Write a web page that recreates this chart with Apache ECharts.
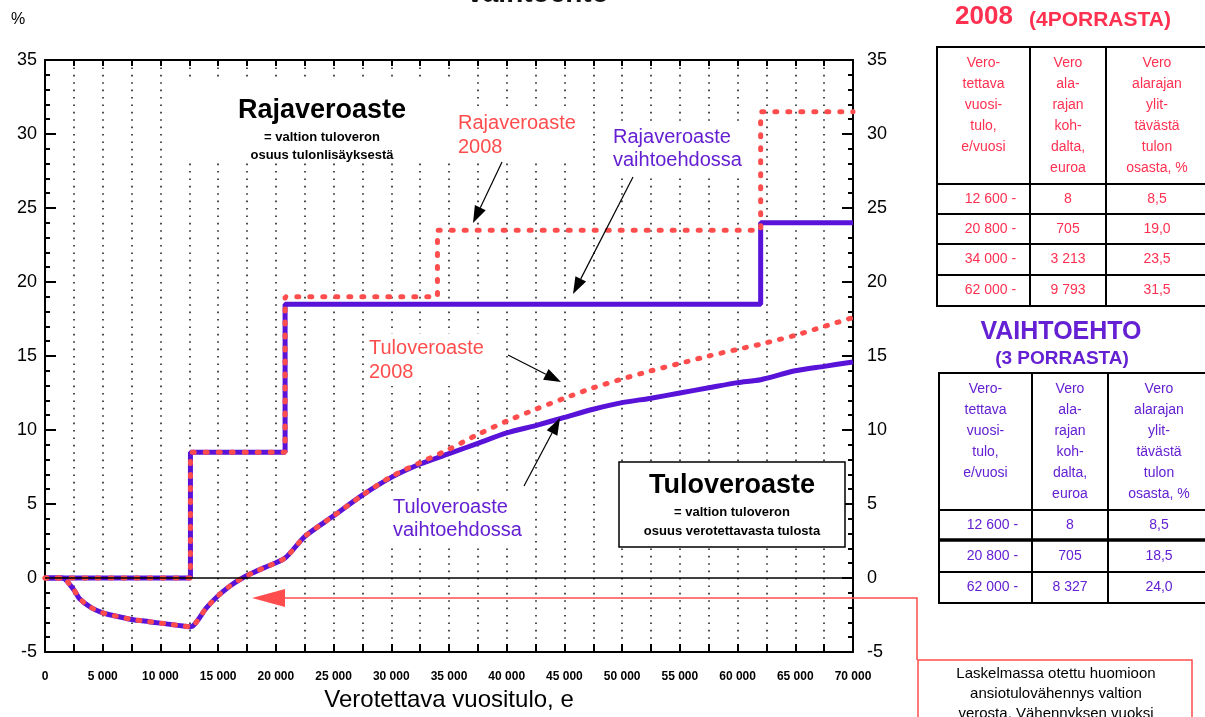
<!DOCTYPE html>
<html><head><meta charset="utf-8">
<script src="https://cdn.jsdelivr.net/npm/echarts@6/dist/echarts.min.js"></script>
<style>html,body{margin:0;padding:0;background:#fff}#c{width:1205px;height:717px}</style>
</head><body><div id="c"></div>
<script>
// ---- data ----
const xMin = 0, xMax = 70000;
const yTicks = [-5, 0, 5, 10, 15, 20, 25, 30, 35];
const limits2008 = [12600, 20800, 34000, 62000];
const baseTax2008 = [8, 705, 3213, 9793];
const rates2008 = [8.5, 19.0, 23.5, 31.5];
const limitsAlt = [12600, 20800, 62000];
const baseTaxAlt = [8, 705, 8327];
const ratesAlt = [8.5, 18.5, 24.0];
const incomes = [0,1500,2500,3000,4000,5000,6000,7500,9000,10000,11000,12000,12600,14000,15000,16000,17000,18000,19000,20800,22500,25000,27500,30000,32500,35000,37500,40000,42500,45000,47500,50000,52500,55000,57500,60000,62000,65000,67500,70000];
const avg2008 = [0,0,-0.8,-1.4,-2.0,-2.35,-2.55,-2.8,-2.95,-3.05,-3.15,-3.25,-3.3,-2.0,-1.2,-0.55,-0.05,0.35,0.7,1.35,2.8,4.2,5.6,6.85,7.8,8.7,9.7,10.6,11.4,12.15,12.85,13.45,14.0,14.5,15.0,15.45,15.8,16.4,17.0,17.6];
const avgAlt = [0,0,-0.8,-1.4,-2.0,-2.35,-2.55,-2.8,-2.95,-3.05,-3.15,-3.25,-3.3,-2.0,-1.2,-0.55,-0.05,0.35,0.7,1.35,2.8,4.2,5.6,6.8,7.7,8.4,9.1,9.8,10.3,10.85,11.4,11.85,12.15,12.5,12.85,13.2,13.4,14.0,14.3,14.6];
const headerCols = [
  ['Vero-','tettava','vuosi-','tulo,','e/vuosi'],
  ['Vero','ala-','rajan','koh-','dalta,','euroa'],
  ['Vero','alarajan','ylit-','tävästä','tulon','osasta, %']
];
const noteLines = ['Laskelmassa otettu huomioon','ansiotulovähennys valtion','verosta. Vähennyksen vuoksi'];

// ---- helpers ----
const RED = '#ff4d4d', BLUE = '#5812d8', TRED = '#ff3050', TBLUE = '#6420d2';
const FF = '"Liberation Sans", Arial, sans-serif';
function fmt(v){ return String(v).replace(/\B(?=(\d{3})+(?!\d))/g, ' '); }
function stepData(limits, rates){
  const d = [[xMin, 0]];
  limits.forEach((l,i)=>d.push([l, rates[i]]));
  d.push([xMax, rates[rates.length-1]]);
  return d;
}
function pairs(xs, ys){ return xs.map((x,i)=>[x, ys[i]]); }
function rowsOf(limits, base, rates){
  return limits.map((l,i)=>[fmt(l)+' -', fmt(base[i]), rates[i].toFixed(1).replace('.', ',')]);
}
function txt(x, y, text, font, fill, align, extra){
  return {type:'text', x:x, y:y, z:100, style:Object.assign({text:text, font:font, fill:fill, align:align||'center', verticalAlign:'middle'}, extra||{})};
}
function ln(x1,y1,x2,y2,stroke,w){ return {type:'line', z:100, shape:{x1,y1,x2,y2}, style:{stroke:stroke, lineWidth:w}}; }
function arrow(x1,y1,x2,y2){
  const dx=x2-x1, dy=y2-y1, L=Math.hypot(dx,dy), ux=dx/L, uy=dy/L, hl=17, hw=6;
  const bx=x2-ux*hl, by=y2-uy*hl;
  return [
    ln(x1,y1,bx,by,'#000',1.2),
    {type:'polygon', z:100, shape:{points:[[x2,y2],[bx-uy*hw,by+ux*hw],[bx+uy*hw,by-ux*hw]]}, style:{fill:'#000'}}
  ];
}
function table(cols, top, headBottom, rowLines, rows, color, thick){
  const g = [];
  const bottom = rowLines[rowLines.length-1];
  g.push({type:'rect', z:100, shape:{x:cols[0], y:top, width:cols[3]-cols[0], height:bottom-top}, style:{fill:'#fff', stroke:'#000', lineWidth:2}});
  g.push(ln(cols[1],top,cols[1],bottom,'#000',2));
  g.push(ln(cols[2],top,cols[2],bottom,'#000',2));
  g.push(ln(cols[0],headBottom,cols[3],headBottom,'#000',2));
  rowLines.slice(0,-1).forEach((y,i)=>g.push(ln(cols[0],y,cols[3],y,'#000', i===thick?3.5:2)));
  headerCols.forEach((lines,j)=>{
    const cx=(cols[j]+cols[j+1])/2;
    lines.forEach((t,k)=>g.push(txt(cx, top+16+k*21, t, '14px '+FF, color)));
  });
  const ys=[headBottom].concat(rowLines);
  rows.forEach((r,i)=>{
    const cy=(ys[i]+ys[i+1])/2;
    r.forEach((t,j)=>{
      const cx=(cols[j]+cols[j+1])/2 + (j===0?7:0);
      g.push(txt(cx, cy, t, '14px '+FF, color));
    });
  });
  return g;
}

const graphics = [].concat(
  [txt(538, 8, 'vaihtoehto', 'bold 28px '+FF, '#111', 'center', {verticalAlign:'bottom'}),
   txt(11, 20, '%', '16px '+FF, '#000', 'left')],
  // Rajaveroaste block
  [{type:'rect', z:99, shape:{x:188, y:78, width:282, height:85}, style:{fill:'#fff'}},
   txt(322, 111, 'Rajaveroaste', 'bold 27px '+FF, '#000'),
   txt(322, 137, '= valtion tuloveron', 'bold 13px '+FF, '#000'),
   txt(322, 155, 'osuus tulonlisäyksestä', 'bold 13px '+FF, '#000')],
  // annotations
  [txt(455, 135, 'Rajaveroaste\n2008', '20px '+FF, RED, 'left', {lineHeight:24, backgroundColor:'#fff', padding:[2,3]}),
   txt(610, 149, 'Rajaveroaste\nvaihtoehdossa', '20px '+FF, TBLUE, 'left', {lineHeight:23, backgroundColor:'#fff', padding:[2,3]}),
   txt(366, 360, 'Tuloveroaste\n2008', '20px '+FF, RED, 'left', {lineHeight:24, backgroundColor:'#fff', padding:[2,3]}),
   txt(390, 519, 'Tuloveroaste\nvaihtoehdossa', '20px '+FF, TBLUE, 'left', {lineHeight:23, backgroundColor:'#fff', padding:[2,3]})],
  arrow(502,162,473,223),
  arrow(633,177,573,294),
  arrow(508,355,561,382),
  arrow(524,486,560,418),
  // Tuloveroaste box
  [{type:'rect', z:100, shape:{x:619, y:462, width:226, height:85}, style:{fill:'#fff', stroke:'#000', lineWidth:1.5}},
   txt(732, 486, 'Tuloveroaste', 'bold 27px '+FF, '#000'),
   txt(732, 512, '= valtion tuloveron', 'bold 13px '+FF, '#000'),
   txt(732, 531, 'osuus verotettavasta tulosta', 'bold 13px '+FF, '#000')],
  // red pointer to note
  [{type:'polyline', z:100, shape:{points:[[284,598],[917,598],[917,660]]}, style:{stroke:RED, lineWidth:1.5, fill:null}},
   {type:'polygon', z:100, shape:{points:[[252,598],[285,589],[285,607]]}, style:{fill:RED}},
   {type:'rect', z:100, shape:{x:918, y:660, width:274, height:80}, style:{fill:'#fff', stroke:RED, lineWidth:1.5}}],
  noteLines.map((t,i)=>txt(1056, 674+i*20, t, '15px '+FF, '#000')),
  // table titles
  [txt(955, 17, '2008', 'bold 26px '+FF, TRED, 'left'),
   txt(1029, 20, '(4PORRASTA)', 'bold 21px '+FF, TRED, 'left'),
   txt(1061, 332, 'VAIHTOEHTO', 'bold 25px '+FF, TBLUE),
   txt(1062, 359, '(3 PORRASTA)', 'bold 19px '+FF, TBLUE)],
  table([937,1030,1106,1208], 47, 184, [214,244,275,306], rowsOf(limits2008, baseTax2008, rates2008), TRED, -1),
  table([939,1032,1108,1210], 373, 510, [540,572,603], rowsOf(limitsAlt, baseTaxAlt, ratesAlt), TBLUE, 0)
);

const axisLineStyle = {color:'#000', width:2};
function yAx(pos, major, margin){
  return {
    type:'value', position:pos, min:yTicks[0], max:yTicks[yTicks.length-1], interval: major ? 5 : 1,
    axisLine:{show:true, onZero:false, lineStyle:{color:'#000', width: major ? 2 : 0.01}},
    axisTick:{show:true, inside:true, length: major ? 11 : 5, lineStyle:{color:'#000', width:2}},
    axisLabel:{show:major, color:'#000', fontSize:18, fontFamily:FF, margin:margin||8},
    splitLine:{show:false}
  };
}

const option = {
  animation:false,
  grid:{left:45, right:352, top:60, bottom:62},
  xAxis:[
    {type:'value', min:xMin, max:xMax, interval:2500, position:'bottom',
     axisLine:{show:true, onZero:false, lineStyle:axisLineStyle},
     axisTick:{show:true, inside:true, length:8, lineStyle:{color:'#000', width:2}},
     axisLabel:{color:'#000', fontSize:12, fontWeight:'bold', fontFamily:FF, margin:19,
       formatter:v=> v%5000===0 ? fmt(v) : ''},
     splitLine:{show:true, lineStyle:{color:'#222', width:1.6, type:[1.6,5.8]}},
     name:'Verotettava vuositulo, e', nameLocation:'middle', nameGap:36,
     nameTextStyle:{color:'#000', fontSize:24, fontFamily:FF}},
    {type:'value', min:xMin, max:xMax, interval:2500, position:'top',
     axisLine:{show:true, onZero:false, lineStyle:axisLineStyle},
     axisTick:{show:true, inside:true, length:6, lineStyle:{color:'#000', width:2}},
     axisLabel:{show:true, color:'rgba(0,0,0,0)', fontSize:8, formatter:()=>' '}, splitLine:{show:false}}
  ],
  yAxis:[ yAx('left', true, 8), yAx('right', true, 14), yAx('left', false), yAx('right', false) ],
  series:[
    {type:'line', name:'Rajaveroaste vaihtoehdossa', step:'end', data:stepData(limitsAlt, ratesAlt),
     symbol:'none', z:3, lineStyle:{color:BLUE, width:5},
     markLine:{silent:true, symbol:['none','none'], label:{show:false},
       lineStyle:{color:'#000', type:'solid', width:1.5}, data:[{yAxis:0}]}},
    {type:'line', name:'Rajaveroaste 2008', step:'end', data:stepData(limits2008, rates2008),
     symbol:'none', z:4, lineStyle:{color:RED, width:5, type:[2,11], cap:'round'}},
    {type:'line', name:'Tuloveroaste vaihtoehdossa', data:pairs(incomes, avgAlt), smooth:0.25,
     symbol:'none', z:3, lineStyle:{color:BLUE, width:5}},
    {type:'line', name:'Tuloveroaste 2008', data:pairs(incomes, avg2008), smooth:0.25,
     symbol:'none', z:4, lineStyle:{color:RED, width:5, type:[2,10], cap:'round'}}
  ],
  graphic:graphics
};
const chart = echarts.init(document.getElementById('c'));
chart.setOption(option);
</script>
</body></html>
